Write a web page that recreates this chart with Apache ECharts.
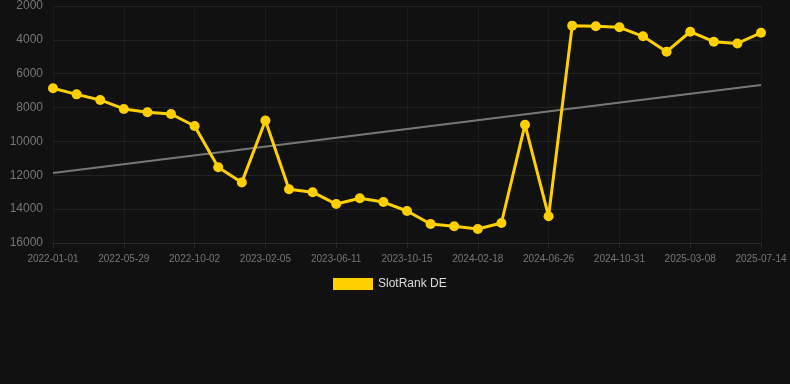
<!DOCTYPE html>
<html><head><meta charset="utf-8">
<script src="https://cdn.jsdelivr.net/npm/echarts@6/dist/echarts.min.js"></script>
<style>html,body{margin:0;padding:0;background:#111111;}#c{width:790px;height:384px;}</style>
</head><body><div id="c"></div>
<script>
const categories = ["2022-01-01","2022-02-15","2022-04-13","2022-05-29","2022-07-10","2022-08-21","2022-10-02","2022-11-13","2022-12-25","2023-02-05","2023-03-19","2023-04-30","2023-06-11","2023-07-23","2023-09-03","2023-10-15","2023-11-26","2024-01-07","2024-02-18","2024-04-01","2024-05-13","2024-06-26","2024-08-07","2024-09-19","2024-10-31","2024-12-12","2025-01-24","2025-03-08","2025-04-19","2025-06-01","2025-07-14"];
const rankValues = [6860,7220,7550,8080,8280,8380,9090,11530,12420,8760,12830,13000,13700,13360,13580,14110,14880,15010,15170,14820,9010,14420,3160,3200,3260,3790,4700,3520,4110,4210,3580];
const trendStart = 11860;
const trendEnd = 6670;
const yTicks = [2000, 16000, 2000]; // min, max, interval
const seriesName = "SlotRank DE";

const trendData = categories.map((c, i) => i === 0 ? trendStart : (i === categories.length - 1 ? trendEnd : null));

const chart = echarts.init(document.getElementById('c'));
chart.setOption({
  backgroundColor: '#111111',
  animation: false,
  grid: { left: 53, right: 29, top: 6, bottom: 141 },
  legend: {
    data: [{ name: seriesName }],
    top: 273, left: 328,
    icon: 'rect', itemWidth: 40, itemHeight: 12, itemGap: 10,
    textStyle: { color: '#dddddd', fontSize: 12 }
  },
  xAxis: {
    type: 'category', data: categories, boundaryGap: false,
    axisLine: { lineStyle: { color: '#2a2a2a' } },
    axisTick: { show: true, interval: 2, lineStyle: { color: '#2a2a2a' } },
    axisLabel: { interval: 2, color: '#777777', fontSize: 10, margin: 11 },
    splitLine: { show: true, interval: 2, lineStyle: { color: '#1c1c1c' } }
  },
  yAxis: {
    type: 'value', inverse: true, min: yTicks[0], max: yTicks[1], interval: yTicks[2],
    axisLine: { show: false }, axisTick: { show: false },
    axisLabel: { color: '#777777', fontSize: 12, margin: 10, formatter: v => String(v) },
    splitLine: { lineStyle: { color: '#222222' } }
  },
  series: [
    {
      name: seriesName, type: 'line', data: rankValues,
      itemStyle: { color: '#FFD000' },
      lineStyle: { color: '#FFD000', width: 3 },
      symbol: 'circle', symbolSize: 10, z: 3
    },
    {
      name: 'trend', type: 'line', data: trendData, connectNulls: true,
      symbol: 'none', lineStyle: { color: '#777777', width: 2 }, z: 2
    }
  ]
});
</script></body></html>
